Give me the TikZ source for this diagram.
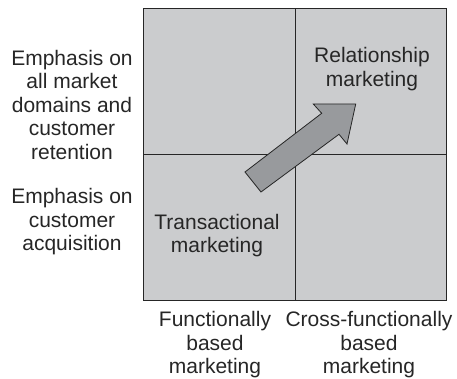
\documentclass[tikz,border=0pt]{standalone}
\usepackage{fontspec}
\setmainfont{Liberation Sans}
\usepackage{tikz}
\usetikzlibrary{positioning}

\begin{document}
\begin{tikzpicture}[x=1pt, y=1pt,
            every node/.style = {draw      = none,
                                inner sep = 0pt,
                                outer sep = 0pt,
                                align     = center,
                                font      = \fontsize{21}{23.5}\selectfont,
                                text      = black!85},
            cell/.style       = {draw = black!85,
                                line width = 0.9pt,
                                fill = cellgray},
            bigarrow/.style   = {draw = black!85,
                                line width = 0.8pt,
                                line join = miter,
                                fill = arrowgray}
            ]
            \definecolor{cellgray}{RGB}{203,204,206}
            \definecolor{arrowgray}{RGB}{152,154,157}
            \useasboundingbox (0,0) rectangle (457,379);

            % grid corners
            \path (143,79)   coordinate (sw)
                  (446,371)  coordinate (ne)
                  (295,79)   coordinate (midS)
                  (295,371)  coordinate (midN)
                  (143,225)  coordinate (midW)
                  (446,225)  coordinate (midE);

            \draw [cell] (sw) rectangle (ne);
            \draw [cell, fill = none] (midS) -- (midN)
                                      (midW) -- (midE);

            % arrow from lower left to upper right
            \path (245,207)    coordinate (tailA)
                  (261,187)    coordinate (tailB)
                  (339,244.7)  coordinate (neckB)
                  (347,235)    coordinate (barbB)
                  (355.7,275)  coordinate (tip)
                  (313.3,275)  coordinate (barbA)
                  (321.7,265.7) coordinate (neckA);
            \draw [bigarrow] (tailA) -- (tailB) -- (neckB) -- (barbB)
                             -- (tip) -- (barbA) -- (neckA) -- cycle;

            % quadrant labels
            \node (relmkt) at (372,310)   {Relationship\\marketing};
            \node (trmkt)  at (217,143.5) {Transactional\\marketing};

            % row labels
            \node (retain)  at (72,274) {Emphasis on\\all market\\domains and\\customer\\retention};
            \node (acquire) at (72,157) {Emphasis on\\customer\\acquisition};

            % column labels
            \node (funct) at (215,34) {Functionally\\based\\marketing};
            \node (cross) at (369,34) {Cross-functionally\\based\\marketing};
\end{tikzpicture}
\end{document}
